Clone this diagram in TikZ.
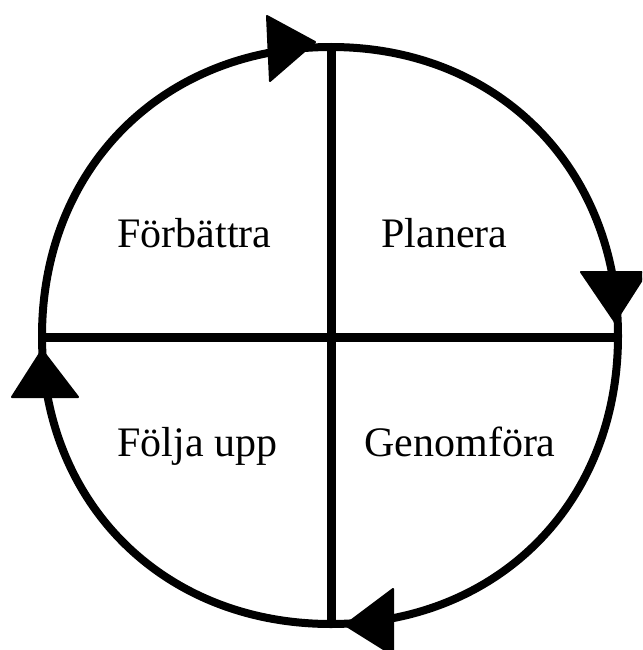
\documentclass[tikz,border=0pt]{standalone}
\usepackage{fontspec}
\setmainfont{Liberation Serif}
\begin{document}
\begin{tikzpicture}[x=1pt,y=-1pt,
  ring/.style={line width=8pt},
  crossline/.style={line width=9pt},
  head/.style={fill=black,draw=black,line width=2pt,line join=round},
  lbl/.style={anchor=base,inner sep=0pt,font=\fontsize{42}{50}\selectfont}]
\useasboundingbox (0,0) rectangle (642,650);
\clip (0,0) rectangle (642,650);
\coordinate (L) at (42,336);
\coordinate (T) at (331,47);
\coordinate (R) at (618,336);
\coordinate (B) at (331,624);
\coordinate (HL) at (46,337);
\coordinate (HR) at (615,337);
% ring as four quarter arcs
\draw[ring] (L) .. controls (42,168) and (163,47) .. (T);
\draw[ring] (T) .. controls (498,47) and (618,168) .. (R);
\draw[ring] (R) .. controls (618,503) and (498,624) .. (B);
\draw[ring] (B) .. controls (163,624) and (42,503) .. (L);
% cross
\draw[crossline] (T) -- (B);
\draw[crossline] (HL) -- (HR);
% arrow heads
\filldraw[head] (315,42) -- (267,16) -- (270,81) -- cycle;
\filldraw[head] (615,322) -- (581,272) -- (647,272) -- cycle;
\filldraw[head] (345,625) -- (393,589) -- (393,655) -- cycle;
\filldraw[head] (42,350) -- (12,397) -- (78,397) -- cycle;
% labels
\node[lbl] (f) at (194.5,247) {Förbättra};
\node[lbl] (p) at (444.5,247) {Planera};
\node[lbl] (u) at (197.5,456) {Följa upp};
\node[lbl] (g) at (460,456) {Genomföra};
\end{tikzpicture}
\end{document}
